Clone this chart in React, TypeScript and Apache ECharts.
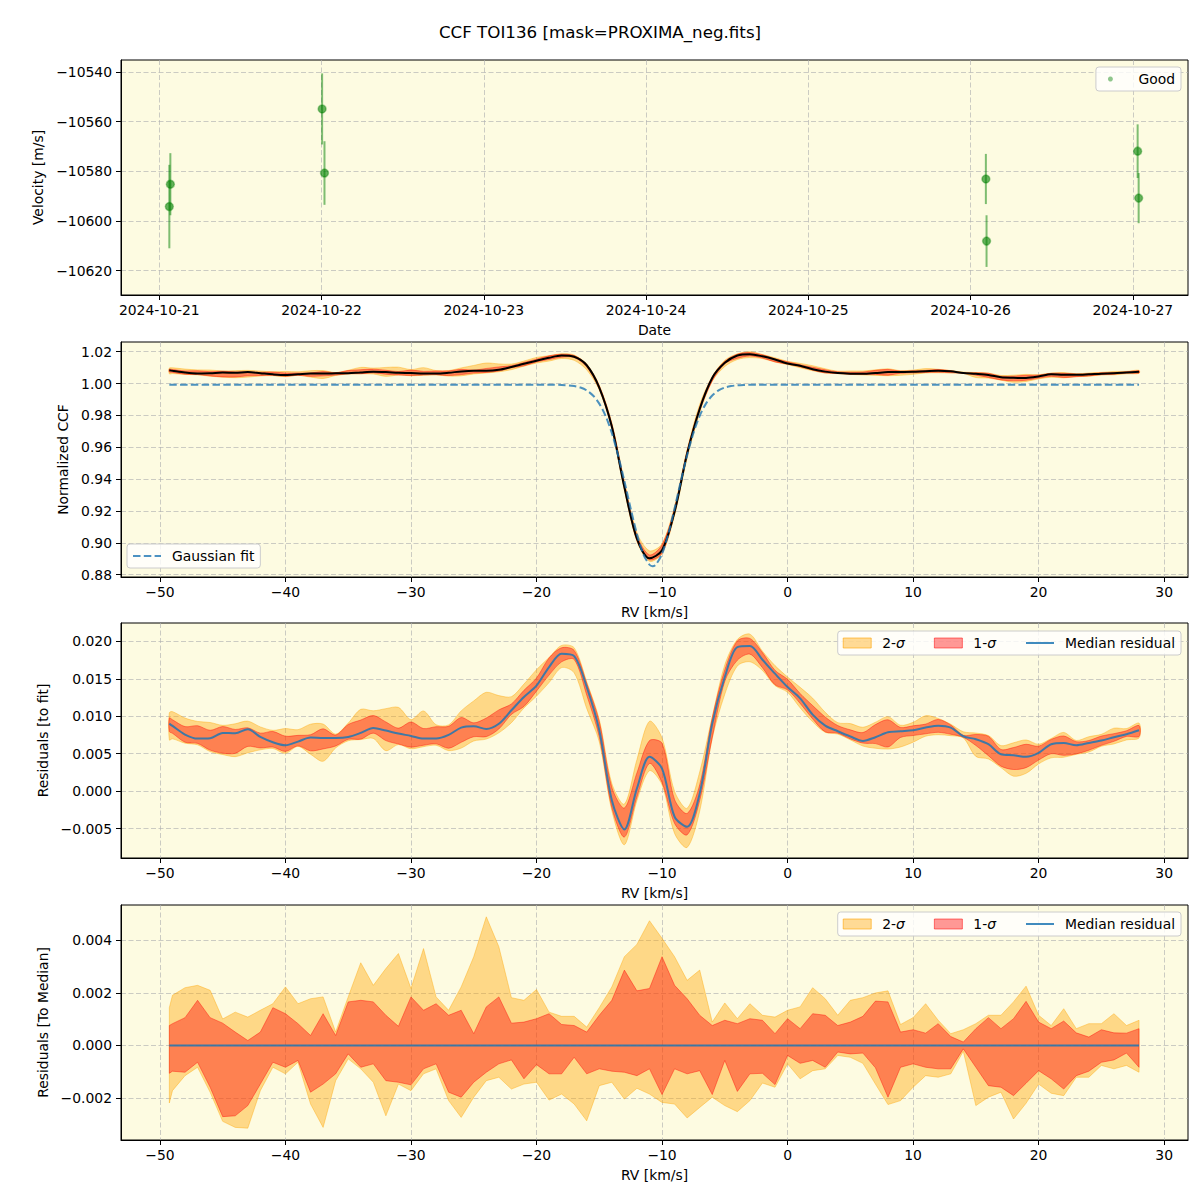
import React, { useEffect, useRef } from 'react';
import * as echarts from 'echarts';

// ---------- Panel 1: velocities ----------
const obsTimes = [
  '2024-10-21T01:38:00Z', '2024-10-21T01:29:00Z', '2024-10-22T00:05:00Z', '2024-10-22T00:26:00Z',
  '2024-10-26T02:16:00Z', '2024-10-26T02:22:00Z', '2024-10-27T00:43:00Z', '2024-10-27T00:52:00Z',
];
const obsVel = [-10585.2, -10594.2, -10554.9, -10580.7, -10583.1, -10608.1, -10571.9, -10590.8];
const obsErr = [12.5, 16.8, 14.3, 12.8, 10.1, 10.4, 10.8, 10.1];
const dateTicks = ['2024-10-21', '2024-10-22', '2024-10-23', '2024-10-24', '2024-10-25', '2024-10-26', '2024-10-27'];
const velTicks = [-10620, -10600, -10580, -10560, -10540];

// ---------- RV grid ----------
const rv = [-49.25, -49, -48, -47, -46, -45, -44, -43, -42, -41, -40, -39, -38, -37, -36, -35, -34, -33, -32, -31,
  -30, -29, -28, -27, -26, -25, -24, -23, -22, -21, -20, -19, -18, -17, -16, -15, -14, -13, -12, -11, -10, -9, -8,
  -7, -6, -5, -4, -3, -2, -1, 0, 1, 2, 3, 4, 5, 6, 7, 8, 9, 10, 11, 12, 13, 14, 15, 16, 17, 18, 19, 20, 21, 22, 23,
  24, 25, 26, 27, 28];

const ccfMedian = [1.0083, 1.0080, 1.0069, 1.0063, 1.0064, 1.0069, 1.0068, 1.0072, 1.0065, 1.0058, 1.0054, 1.0058,
  1.0063, 1.0063, 1.0064, 1.0065, 1.0070, 1.0074, 1.0072, 1.0068, 1.0066, 1.0063, 1.0063, 1.0068, 1.0076, 1.0080,
  1.0080, 1.0086, 1.0104, 1.0124, 1.0143, 1.0162, 1.0176, 1.0168, 1.0115, 0.9975, 0.9730, 0.9350, 0.9025, 0.8902,
  0.8953, 0.9195, 0.9560, 0.9840, 1.0035, 1.0130, 1.0176, 1.0184, 1.0171, 1.0151, 1.0126, 1.0112, 1.0090, 1.0075,
  1.0066, 1.0062, 1.0061, 1.0066, 1.0072, 1.0073, 1.0074, 1.0078, 1.0080, 1.0077, 1.0066, 1.0061, 1.0054, 1.0039,
  1.0036, 1.0035, 1.0044, 1.0058, 1.0055, 1.0055, 1.0058, 1.0062, 1.0064, 1.0069, 1.0074];

const residMedian = [0.00902, 0.00871, 0.00756, 0.00702, 0.00707, 0.00778, 0.00773, 0.00827, 0.00724, 0.00653,
  0.00613, 0.00662, 0.00716, 0.00711, 0.00711, 0.00724, 0.00778, 0.00844, 0.00809, 0.00769, 0.00738, 0.00702,
  0.00702, 0.00751, 0.00849, 0.00867, 0.00830, 0.00900, 0.01080, 0.01258, 0.01409, 0.01658, 0.01835, 0.01804,
  0.01391, 0.00813, -0.00120, -0.00511, 0.00036, 0.00458, 0.00302, -0.00342, -0.00476, -0.00031, 0.00902,
  0.01524, 0.01924, 0.01938, 0.01755, 0.01569, 0.01391, 0.01240, 0.01022, 0.00875, 0.00800, 0.00730, 0.00671,
  0.00720, 0.00787, 0.00800, 0.00813, 0.00849, 0.00875, 0.00849, 0.00733, 0.00693, 0.00627, 0.00493, 0.00480,
  0.00458, 0.00511, 0.00627, 0.00644, 0.00613, 0.00644, 0.00676, 0.00720, 0.00760, 0.00813];

// spread of the residuals around the median (panel 4)
const sig2Hi = [0.00144, 0.00191, 0.00220, 0.00229, 0.00210, 0.00101, 0.00127, 0.00108, 0.00134, 0.00159, 0.00223,
  0.00159, 0.00178, 0.00185, 0.00051, 0.00185, 0.00315, 0.00229, 0.00293, 0.00350, 0.00217, 0.00369, 0.00185,
  0.00134, 0.00223, 0.00338, 0.00490, 0.00376, 0.00182, 0.00172, 0.00213, 0.00127, 0.00111, 0.00111, 0.00070,
  0.00144, 0.00223, 0.00338, 0.00385, 0.00475, 0.00408, 0.00338, 0.00248, 0.00287, 0.00089, 0.00162, 0.00102,
  0.00159, 0.00115, 0.00108, 0.00134, 0.00147, 0.00220, 0.00178, 0.00115, 0.00172, 0.00182, 0.00200, 0.00208,
  0.00080, 0.00106, 0.00159, 0.00096, 0.00045, 0.00060, 0.00083, 0.00115, 0.00115, 0.00166, 0.00226, 0.00115,
  0.00076, 0.00140, 0.00064, 0.00083, 0.00083, 0.00121, 0.00076, 0.00096];
const sig1Hi = [0.00076, 0.00083, 0.00106, 0.00172, 0.00106, 0.00085, 0.00051, 0.00019, 0.00051, 0.00144, 0.00121,
  0.00083, 0.00038, 0.00121, 0.00038, 0.00166, 0.00172, 0.00166, 0.00115, 0.00073, 0.00185, 0.00134, 0.00159,
  0.00115, 0.00134, 0.00045, 0.00147, 0.00185, 0.00085, 0.00089, 0.00102, 0.00121, 0.00080, 0.00076, 0.00051,
  0.00115, 0.00172, 0.00287, 0.00208, 0.00217, 0.00338, 0.00229, 0.00178, 0.00115, 0.00076, 0.00096, 0.00083,
  0.00102, 0.00096, 0.00045, 0.00102, 0.00064, 0.00121, 0.00115, 0.00076, 0.00089, 0.00111, 0.00169, 0.00166,
  0.00051, 0.00060, 0.00047, 0.00083, 0.00034, 0.00013, 0.00064, 0.00106, 0.00064, 0.00102, 0.00168, 0.00089,
  0.00064, 0.00093, 0.00048, 0.00032, 0.00060, 0.00048, 0.00047, 0.00064];
const sig1Lo = [-0.00106, -0.00098, -0.00102, -0.00064, -0.00159, -0.00271, -0.00268, -0.00229, -0.00147, -0.00064,
  -0.00083, -0.00057, -0.00178, -0.00147, -0.00108, -0.00032, -0.00083, -0.00070, -0.00134, -0.00140, -0.00150,
  -0.00089, -0.00070, -0.00178, -0.00197, -0.00140, -0.00102, -0.00070, -0.00055, -0.00127, -0.00073, -0.00108,
  -0.00108, -0.00045, -0.00108, -0.00089, -0.00098, -0.00102, -0.00115, -0.00089, -0.00187, -0.00089, -0.00108,
  -0.00096, -0.00187, -0.00057, -0.00175, -0.00108, -0.00106, -0.00149, -0.00038, -0.00068, -0.00057, -0.00083,
  -0.00025, -0.00032, -0.00029, -0.00085, -0.00197, -0.00083, -0.00070, -0.00083, -0.00089, -0.00089, -0.00013,
  -0.00083, -0.00153, -0.00159, -0.00191, -0.00144, -0.00096, -0.00127, -0.00166, -0.00115, -0.00098, -0.00064,
  -0.00055, -0.00029, -0.00083];
const sig2Lo = [-0.00219, -0.00172, -0.00115, -0.00083, -0.00178, -0.00289, -0.00312, -0.00315, -0.00172, -0.00083,
  -0.00108, -0.00064, -0.00223, -0.00312, -0.00134, -0.00051, -0.00089, -0.00140, -0.00268, -0.00147, -0.00172,
  -0.00108, -0.00089, -0.00210, -0.00274, -0.00197, -0.00134, -0.00121, -0.00166, -0.00147, -0.00140, -0.00208,
  -0.00185, -0.00223, -0.00287, -0.00153, -0.00140, -0.00204, -0.00163, -0.00185, -0.00217, -0.00223, -0.00276,
  -0.00236, -0.00197, -0.00229, -0.00252, -0.00210, -0.00143, -0.00159, -0.00070, -0.00127, -0.00096, -0.00089,
  -0.00038, -0.00045, -0.00068, -0.00147, -0.00225, -0.00210, -0.00159, -0.00115, -0.00121, -0.00108, -0.00022,
  -0.00229, -0.00197, -0.00178, -0.00280, -0.00220, -0.00147, -0.00182, -0.00191, -0.00121, -0.00121, -0.00076,
  -0.00089, -0.00076, -0.00102];

// Gaussian fit (sampled)
const gaussRv = [-49.25, -19, -18, -17, -16.5, -16, -15.5, -15, -14.5, -14, -13.5, -13, -12.5, -12, -11.5, -11,
  -10.75, -10.5, -10, -9.5, -9, -8.5, -8, -7.5, -7, -6.5, -6, -5.5, -5, -4.5, -4, -3.5, -2.5, 28];
const gaussVal = [0.9993, 0.9993, 0.9991, 0.9984, 0.9975, 0.9957, 0.9925, 0.9874, 0.9797, 0.9689, 0.9550, 0.9388,
  0.9216, 0.9055, 0.8930, 0.8862, 0.8853, 0.8862, 0.8930, 0.9055, 0.9216, 0.9388, 0.9550, 0.9689, 0.9797, 0.9874,
  0.9925, 0.9957, 0.9975, 0.9984, 0.9989, 0.9991, 0.9993, 0.9993];

const rvTicks = [-50, -40, -30, -20, -10, 0, 10, 20, 30];
const ccfTicks = [0.88, 0.90, 0.92, 0.94, 0.96, 0.98, 1.00, 1.02];
const residTicks = [-0.005, 0, 0.005, 0.01, 0.015, 0.02];
const medTicks = [-0.002, 0, 0.002, 0.004];

const FONT = 'DejaVu Sans';
const FS = 13.9;
const BG = '#fdfbe1';
const GRIDLINE = { show: true, lineStyle: { color: 'rgba(176,176,176,0.65)', type: [5, 2.5], width: 1 } };
const C2 = 'rgba(255,165,0,0.4)';
const C1 = 'rgba(255,0,0,0.4)';
const BLUE = 'rgba(31,119,180,0.85)';
const GAUSS_C = 'rgba(31,119,180,0.8)';
const NOFILL = 'rgba(0,0,0,0)';

const minus = (s: string) => s.replace('-', '\u2212');

function xValueAxis(g: number) {
  return {
    type: 'value', gridIndex: g, min: -53.1, max: 31.9,
    name: 'RV [km/s]', nameLocation: 'middle', nameGap: 28,
    nameTextStyle: { fontFamily: FONT, fontSize: FS, color: '#000' },
    axisLine: { show: true, onZero: false, lineStyle: { color: '#000', width: 1 } },
    axisTick: { show: true, length: 5, customValues: rvTicks, lineStyle: { color: '#000', width: 1 } },
    axisLabel: { customValues: rvTicks, margin: 8, color: '#000', fontFamily: FONT, fontSize: FS,
      formatter: (v: number) => minus(String(v)) },
    splitLine: GRIDLINE,
  };
}

function yAxis(g: number, min: number, max: number, ticks: number[], name: string, gap: number, dec: number) {
  return {
    type: 'value', gridIndex: g, min, max,
    name, nameLocation: 'middle', nameGap: gap,
    nameTextStyle: { fontFamily: FONT, fontSize: FS, color: '#000' },
    axisLine: { show: true, onZero: false, lineStyle: { color: '#000', width: 1 } },
    axisTick: { show: true, length: 5, customValues: ticks, lineStyle: { color: '#000', width: 1 } },
    axisLabel: { customValues: ticks, margin: 9, color: '#000', fontFamily: FONT, fontSize: FS,
      formatter: (v: number) => minus(v.toFixed(dec)) },
    splitLine: GRIDLINE,
  };
}

function band(name: string | undefined, g: number, base: number[] | null, lo: number[], hi: number[],
  fill: string, smooth: number) {
  return {
    type: 'custom', name, xAxisIndex: g, yAxisIndex: g, silent: true,
    itemStyle: { color: fill },
    data: [[rv[0], (base ? base[0] : 0) + lo[0]]],
    renderItem: (_p: any, api: any) => {
      const pts: number[][] = [];
      for (let i = 0; i < rv.length; i++) pts.push(api.coord([rv[i], (base ? base[i] : 0) + hi[i]]));
      for (let i = rv.length - 1; i >= 0; i--) pts.push(api.coord([rv[i], (base ? base[i] : 0) + lo[i]]));
      return { type: 'polygon', shape: { points: pts, smooth }, style: { fill, stroke: fill, lineWidth: 1 } };
    },
  };
}

const legendBase = {
  orient: 'horizontal', selectedMode: false, backgroundColor: 'rgba(255,255,255,0.8)',
  borderColor: '#cccccc', borderWidth: 1, borderRadius: 3, padding: [5, 6, 5, 5],
  itemWidth: 28, itemHeight: 10,
  textStyle: { fontFamily: FONT, fontSize: FS, color: '#000', padding: [0, 0, 0, 6],
    rich: { i: { fontStyle: 'italic', fontFamily: FONT, fontSize: FS, color: '#000' } } },
  formatter: (n: string) => n.replace('\u03c3', '{i|\u03c3}'),
};

function sigmaLegend(top: number) {
  return {
    ...legendBase, right: 19, top, itemGap: 29,
    data: [
      { name: '2-\u03c3', icon: 'rect', itemStyle: { color: C2, borderColor: 'rgba(255,165,0,0.6)', borderWidth: 1 } },
      { name: '1-\u03c3', icon: 'rect', itemStyle: { color: C1, borderColor: 'rgba(255,0,0,0.5)', borderWidth: 1 } },
      { name: 'Median residual', itemStyle: { color: NOFILL, borderWidth: 0 },
        lineStyle: { color: BLUE, width: 2 } },
    ],
  };
}

export default function App() {
  const ref = useRef<HTMLDivElement>(null);
  useEffect(() => {
    if (!ref.current) return;
    const chart = echarts.init(ref.current, undefined, { renderer: 'svg' });
    const last = rv.length - 1;
    const dayMs = dateTicks.map((d) => Date.parse(d + 'T00:00:00Z'));
    const pad = (n: number) => (n < 10 ? '0' : '') + n;

    const option: any = {
      animation: false,
      title: {
        text: 'CCF TOI136 [mask=PROXIMA_neg.fits]', left: 'center', top: 18,
        textStyle: { fontFamily: FONT, fontSize: 16.7, fontWeight: 'normal', color: '#000' },
      },
      grid: [60, 342, 623, 905].map((top) => ({
        left: 121, right: 12, top, height: 235, show: true, backgroundColor: BG,
        borderColor: '#000', borderWidth: 1,
      })),
      xAxis: [
        {
          type: 'value', gridIndex: 0,
          min: Date.parse('2024-10-20T18:20:00Z'), max: Date.parse('2024-10-27T08:10:00Z'),
          name: 'Date', nameLocation: 'middle', nameGap: 28,
          nameTextStyle: { fontFamily: FONT, fontSize: FS, color: '#000' },
          axisLine: { show: true, onZero: false, lineStyle: { color: '#000', width: 1 } },
          axisTick: { show: true, length: 5, customValues: dayMs, lineStyle: { color: '#000', width: 1 } },
          axisLabel: {
            customValues: dayMs, margin: 8, color: '#000', fontFamily: FONT, fontSize: FS,
            formatter: (v: number) => {
              const d = new Date(v);
              return d.getUTCFullYear() + '-' + pad(d.getUTCMonth() + 1) + '-' + pad(d.getUTCDate());
            },
          },
          splitLine: GRIDLINE,
        },
        xValueAxis(1), xValueAxis(2), xValueAxis(3),
      ],
      yAxis: [
        yAxis(0, -10629.8, -10535.2, velTicks, 'Velocity [m/s]', 72, 0),
        yAxis(1, 0.8785, 1.0261, ccfTicks, 'Normalized CCF', 47, 2),
        yAxis(2, -0.00893, 0.02246, residTicks, 'Residuals [to fit]', 67, 3),
        yAxis(3, -0.0036, 0.00535, medTicks, 'Residuals [To Median]', 67, 3),
      ],
      legend: [
        {
          ...legendBase, right: 19, top: 67, itemHeight: 5, padding: [5, 6, 5, 12],
          textStyle: { ...legendBase.textStyle, padding: [0, 0, 0, 9] },
          data: [{ name: 'Good', icon: 'circle', itemStyle: { color: 'rgba(0,128,0,0.55)', borderWidth: 0 } }],
        },
        {
          ...legendBase, left: 127, top: 544,
          data: [{ name: 'Gaussian fit', itemStyle: { color: NOFILL, borderWidth: 0 },
            lineStyle: { color: GAUSS_C, width: 2, type: [7.5, 3.3] } }],
        },
        sigmaLegend(631),
        sigmaLegend(912),
      ],
      series: [
        // panel 1
        {
          type: 'custom', xAxisIndex: 0, yAxisIndex: 0, silent: true,
          data: obsTimes.map((t, i) => [Date.parse(t), obsVel[i], obsErr[i]]),
          encode: { x: 0, y: 1 },
          renderItem: (_p: any, api: any) => {
            const x = api.value(0), y = api.value(1), e = api.value(2);
            const a = api.coord([x, y - e]);
            const b = api.coord([x, y + e]);
            return { type: 'line', shape: { x1: a[0], y1: a[1], x2: b[0], y2: b[1] },
              style: { stroke: 'rgba(0,128,0,0.5)', lineWidth: 2 } };
          },
        },
        {
          type: 'scatter', name: 'Good', xAxisIndex: 0, yAxisIndex: 0,
          data: obsTimes.map((t, i) => [Date.parse(t), obsVel[i]]),
          symbolSize: 8,
          itemStyle: { color: 'rgba(0,128,0,0.75)', borderColor: 'rgba(0,128,0,0.45)', borderWidth: 1.5 },
        },
        // panel 2
        band(undefined, 1, ccfMedian, sig2Lo, sig2Hi, C2, 0.3),
        band(undefined, 1, ccfMedian, sig1Lo, sig1Hi, C1, 0.3),
        {
          type: 'line', xAxisIndex: 1, yAxisIndex: 1, symbol: 'none', smooth: 0.3, silent: true,
          data: rv.map((x, i) => [x, ccfMedian[i]]),
          lineStyle: { color: '#000', width: 2 }, itemStyle: { color: '#000' },
        },
        {
          type: 'line', name: 'Gaussian fit', xAxisIndex: 1, yAxisIndex: 1, symbol: 'none', smooth: 0.3, silent: true,
          data: gaussRv.map((x, i) => [x, gaussVal[i]]),
          lineStyle: { color: GAUSS_C, width: 2, type: [7.5, 3.3] },
          itemStyle: { color: GAUSS_C },
        },
        // panel 3
        band('2-\u03c3', 2, residMedian, sig2Lo, sig2Hi, C2, 0.3),
        band('1-\u03c3', 2, residMedian, sig1Lo, sig1Hi, C1, 0.3),
        {
          type: 'line', name: 'Median residual', xAxisIndex: 2, yAxisIndex: 2, symbol: 'none', smooth: 0.3,
          silent: true, data: rv.map((x, i) => [x, residMedian[i]]),
          lineStyle: { color: BLUE, width: 2 }, itemStyle: { color: BLUE },
        },
        // panel 4
        band('2-\u03c3', 3, null, sig2Lo, sig2Hi, C2, 0),
        band('1-\u03c3', 3, null, sig1Lo, sig1Hi, C1, 0),
        {
          type: 'line', name: 'Median residual', xAxisIndex: 3, yAxisIndex: 3, symbol: 'none', silent: true,
          data: [[rv[0], 0], [rv[last], 0]],
          lineStyle: { color: BLUE, width: 2 }, itemStyle: { color: BLUE },
        },
      ],
    };
    chart.setOption(option);
    return () => chart.dispose();
  }, []);
  return <div ref={ref} style={{ position: 'absolute', left: 0, top: 0, width: 1200, height: 1200, background: '#fff' }} />;
}
